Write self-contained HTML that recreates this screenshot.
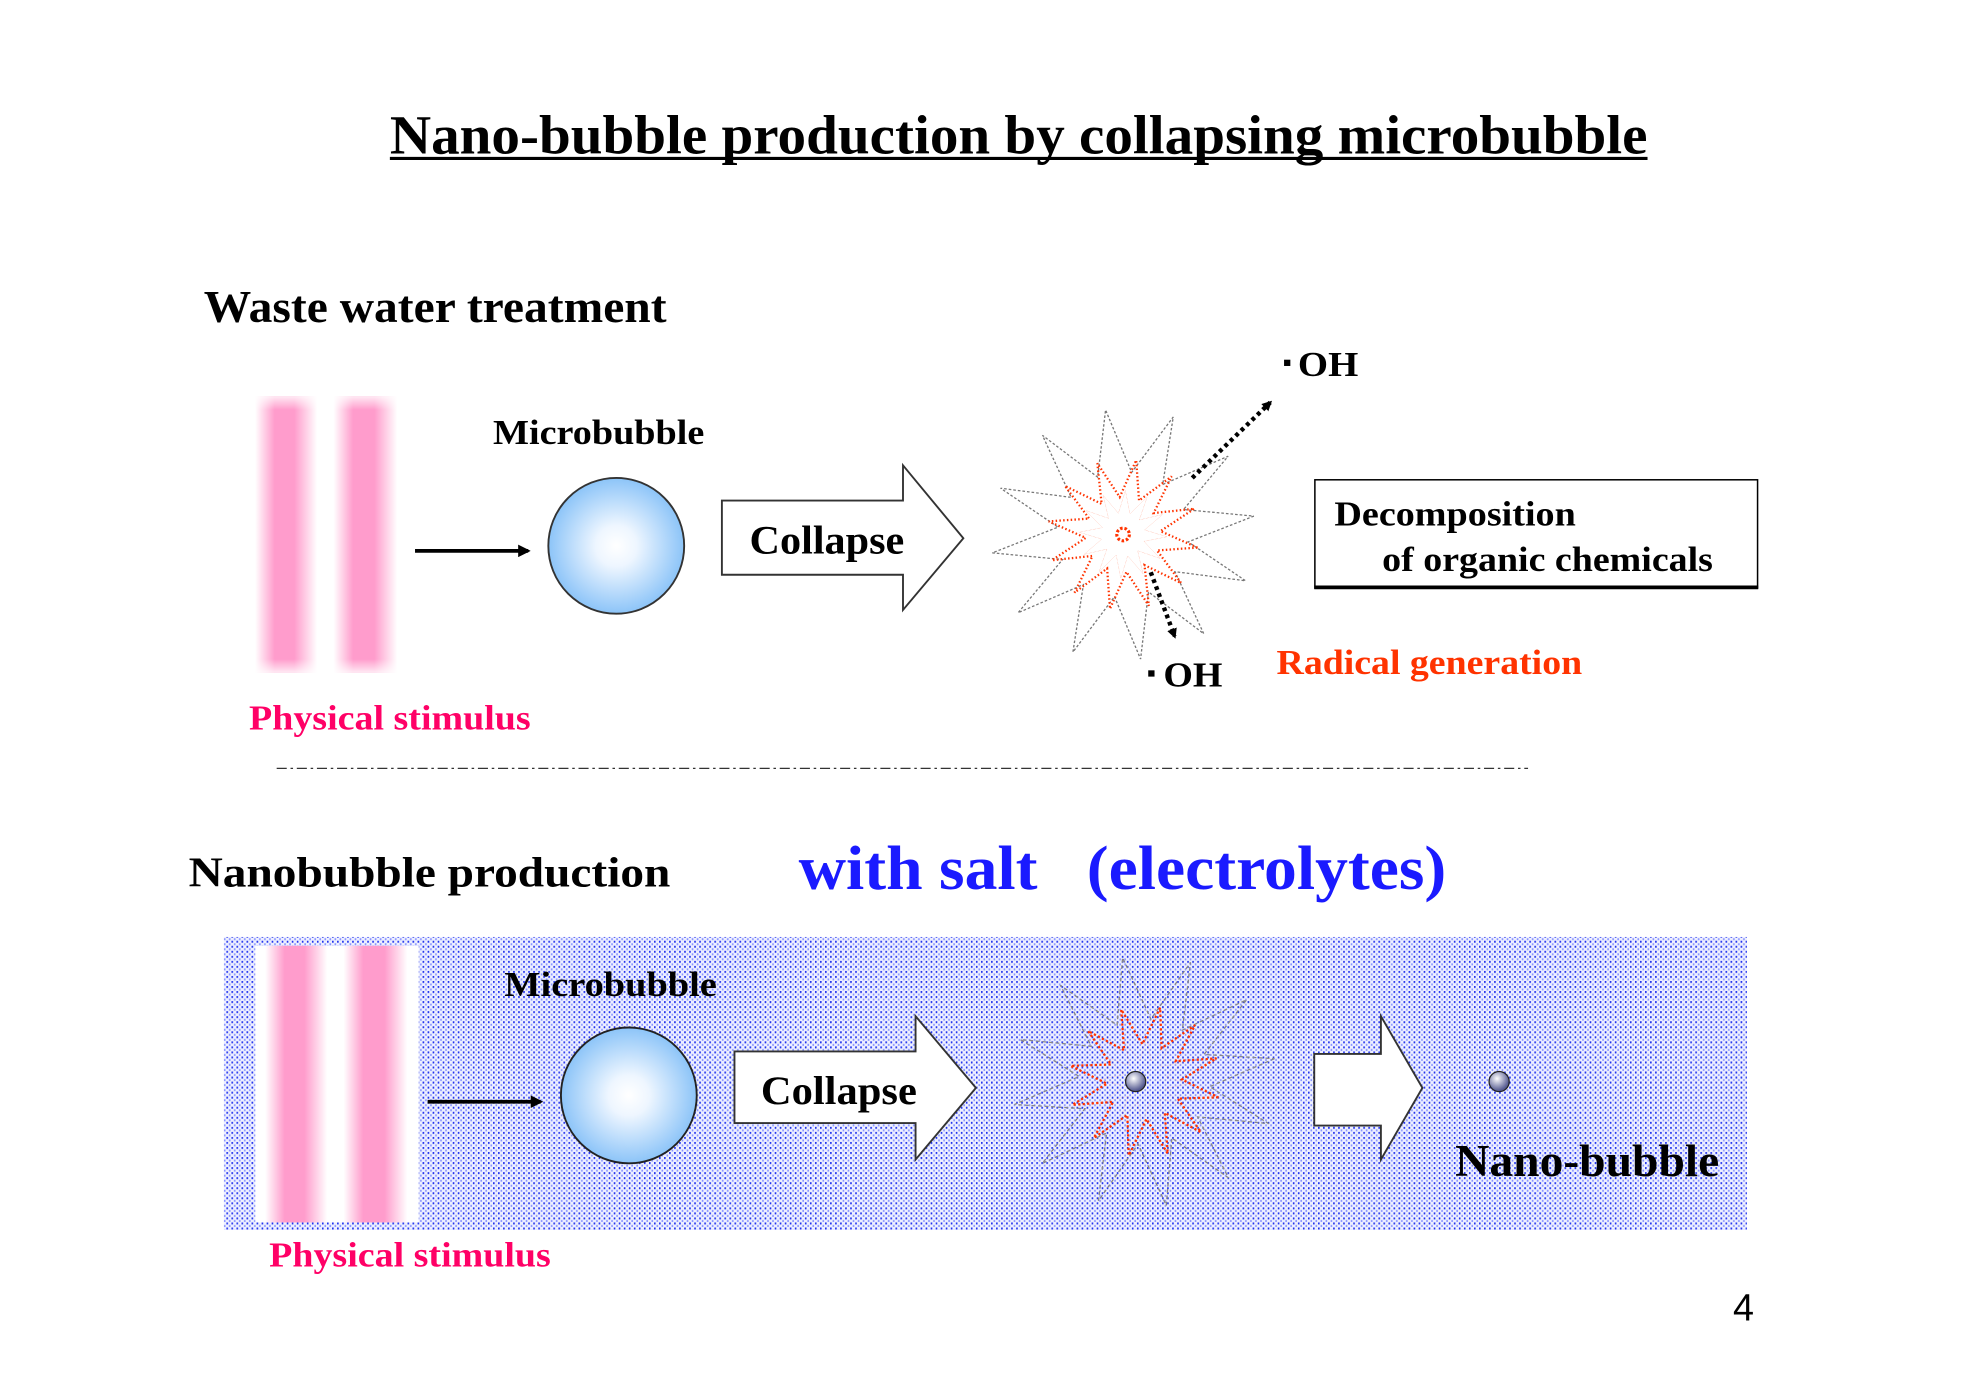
<!DOCTYPE html>
<html><head><meta charset="utf-8"><style>
html,body{margin:0;padding:0;background:#fff;}
svg{display:block;}
text{font-family:"Liberation Serif",serif;font-weight:bold;}
</style></head><body>
<svg width="1972" height="1396" viewBox="0 0 1568 1110" xmlns="http://www.w3.org/2000/svg">
<defs>
<linearGradient id="stripes" x1="0" x2="1" y1="0" y2="0">
<stop offset="0" stop-color="#fff"/>
<stop offset="0.06" stop-color="#fff"/>
<stop offset="0.18" stop-color="#ff9ccc"/>
<stop offset="0.3" stop-color="#ff9ccc"/>
<stop offset="0.44" stop-color="#fff"/>
<stop offset="0.54" stop-color="#fff"/>
<stop offset="0.66" stop-color="#ff9ccc"/>
<stop offset="0.79" stop-color="#ff9ccc"/>
<stop offset="0.93" stop-color="#fff"/>
<stop offset="1" stop-color="#fff"/>
</linearGradient>
<linearGradient id="vfade" x1="0" x2="0" y1="0" y2="1">
<stop offset="0" stop-color="#fff" stop-opacity="0.8"/>
<stop offset="0.05" stop-color="#fff" stop-opacity="0"/>
<stop offset="0.95" stop-color="#fff" stop-opacity="0"/>
<stop offset="1" stop-color="#fff" stop-opacity="0.8"/>
</linearGradient>
<radialGradient id="bub" cx="0.5" cy="0.5" r="0.5">
<stop offset="0" stop-color="#fff"/>
<stop offset="0.3" stop-color="#eef6ff"/>
<stop offset="1" stop-color="#8cc4f8"/>
</radialGradient>
<radialGradient id="ball" cx="0.4" cy="0.35" r="0.6">
<stop offset="0" stop-color="#fff"/>
<stop offset="1" stop-color="#555a90"/>
</radialGradient>
<pattern id="dots" width="4" height="4" patternUnits="userSpaceOnUse">
<rect width="4" height="4" fill="#eef0ff"/>
<rect x="0" y="0" width="1.3" height="1.6" fill="#2233ee"/>
<rect x="2" y="2" width="1.3" height="1.6" fill="#4455ff" opacity="0.6"/>
</pattern>
<polygon id="star" points="100,0 48,13 87,50 35,35 50,87 13,48 0,100 -13,48 -50,87 -35,35 -87,50 -48,13 -100,0 -48,-13 -87,-50 -35,-35 -50,-87 -13,-48 0,-100 13,-48 50,-87 35,-35 87,-50 48,-13"/>
<marker id="ah" markerWidth="8" markerHeight="8" refX="6" refY="4" orient="auto" markerUnits="userSpaceOnUse"><path d="M0,0 L8,4 L0,8 z" fill="#000"/></marker>
<marker id="ah2" markerWidth="10" markerHeight="10" refX="8" refY="5" orient="auto" markerUnits="userSpaceOnUse"><path d="M0,0 L10,5 L0,10 z" fill="#000"/></marker>
</defs>

<text x="310" y="122" font-size="44" textLength="1000" lengthAdjust="spacingAndGlyphs">Nano-bubble production by collapsing microbubble</text>
<line x1="310" y1="126" x2="1310" y2="126" stroke="#000" stroke-width="2.5"/>

<text x="162" y="256" font-size="36" textLength="368" lengthAdjust="spacingAndGlyphs">Waste water treatment</text>

<rect x="195" y="315" width="130" height="220" fill="url(#stripes)"/>
<rect x="195" y="315" width="130" height="220" fill="url(#vfade)"/>
<line x1="330" y1="438" x2="420" y2="438" stroke="#000" stroke-width="3" marker-end="url(#ah2)"/>
<text x="392" y="353" font-size="28" textLength="168" lengthAdjust="spacingAndGlyphs">Microbubble</text>
<circle cx="490" cy="434" r="54" fill="url(#bub)" stroke="#333" stroke-width="1.5"/>
<path d="M574,398 L718,398 L718,370 L766,428 L718,485 L718,457 L574,457 Z" fill="#fff" stroke="#333" stroke-width="1.5"/>
<text x="596" y="440" font-size="32" textLength="123" lengthAdjust="spacingAndGlyphs">Collapse</text>

<g transform="translate(893,425)">
<use href="#star" transform="rotate(-8) scale(1.05,1.0)" fill="none" stroke="#777" stroke-width="1" stroke-dasharray="2,1.5" vector-effect="non-scaling-stroke"/>
<use href="#star" transform="rotate(10) scale(0.6)" fill="none" stroke="#ff3300" stroke-width="3" stroke-dasharray="2,3" vector-effect="non-scaling-stroke"/>
<use href="#star" transform="rotate(3) scale(0.35)" fill="none" stroke="#ff7755" stroke-width="1" stroke-dasharray="1,2" vector-effect="non-scaling-stroke"/>
<circle r="5" fill="none" stroke="#ff3300" stroke-width="2.5" stroke-dasharray="2,1.5"/>
</g>
<line x1="948" y1="380" x2="1010" y2="320" stroke="#000" stroke-width="3.5" stroke-dasharray="3,3" marker-end="url(#ah)"/>
<line x1="915" y1="455" x2="934" y2="506" stroke="#000" stroke-width="3.5" stroke-dasharray="3,3" marker-end="url(#ah)"/>
<rect x="1021" y="286" width="5" height="5" fill="#000"/>
<text x="1032" y="299" font-size="28" textLength="48" lengthAdjust="spacingAndGlyphs">OH</text>
<rect x="913" y="533" width="5" height="5" fill="#000"/>
<text x="925" y="546" font-size="28" textLength="47" lengthAdjust="spacingAndGlyphs">OH</text>

<rect x="1045.5" y="381.5" width="352" height="86" fill="#fff" stroke="#000" stroke-width="1.2"/>
<line x1="1045" y1="467" x2="1398" y2="467" stroke="#000" stroke-width="3"/>
<text x="1061" y="418" font-size="28" textLength="192" lengthAdjust="spacingAndGlyphs">Decomposition</text>
<text x="1099" y="454" font-size="28" textLength="263" lengthAdjust="spacingAndGlyphs">of organic chemicals</text>
<text x="1015" y="536" font-size="28" fill="#ff3300" textLength="243" lengthAdjust="spacingAndGlyphs">Radical generation</text>
<text x="198" y="580" font-size="28" fill="#ff0066" textLength="224" lengthAdjust="spacingAndGlyphs">Physical stimulus</text>

<line x1="220" y1="611" x2="1215" y2="611" stroke="#333" stroke-width="1" stroke-dasharray="8,3,2,3"/>

<text x="150" y="705" font-size="34" textLength="383" lengthAdjust="spacingAndGlyphs">Nanobubble production</text>
<text x="635" y="707" font-size="50" fill="#1a1aff" xml:space="preserve" textLength="515" lengthAdjust="spacingAndGlyphs">with salt   (electrolytes)</text>

<rect x="178" y="745" width="1211" height="233" fill="url(#dots)"/>
<rect x="203" y="752" width="130" height="220" fill="url(#stripes)"/>
<line x1="340" y1="876" x2="430" y2="876" stroke="#000" stroke-width="3" marker-end="url(#ah2)"/>
<text x="401" y="792" font-size="28" textLength="169" lengthAdjust="spacingAndGlyphs">Microbubble</text>
<circle cx="500" cy="871" r="54" fill="url(#bub)" stroke="#222" stroke-width="1.5"/>
<path d="M584,836 L728,836 L728,808 L776,865 L728,922 L728,893 L584,893 Z" fill="#fff" stroke="#333" stroke-width="1.5"/>
<text x="605" y="878" font-size="32" textLength="124" lengthAdjust="spacingAndGlyphs">Collapse</text>

<g transform="translate(910,860)">
<use href="#star" transform="rotate(-10) scale(1.05,1.0)" fill="none" stroke="#888" stroke-width="1" stroke-dasharray="3,2" vector-effect="non-scaling-stroke"/>
<use href="#star" transform="rotate(12) scale(0.6)" fill="none" stroke="#ff3300" stroke-width="3" stroke-dasharray="3,3" vector-effect="non-scaling-stroke"/>
<use href="#star" transform="rotate(3) scale(0.35)" fill="none" stroke="#ff9977" stroke-width="1" stroke-dasharray="1,2" vector-effect="non-scaling-stroke"/>
</g>
<circle cx="903" cy="860" r="8" fill="url(#ball)" stroke="#222" stroke-width="1"/>
<path d="M1045,838 L1098,838 L1098,808 L1131,865 L1098,922 L1098,895 L1045,895 Z" fill="#fff" stroke="#333" stroke-width="1.5"/>
<circle cx="1192" cy="860" r="8" fill="url(#ball)" stroke="#222" stroke-width="1"/>
<text x="1157" y="935" font-size="36" textLength="210" lengthAdjust="spacingAndGlyphs">Nano-bubble</text>
<text x="214" y="1007" font-size="28" fill="#ff0066" textLength="224" lengthAdjust="spacingAndGlyphs">Physical stimulus</text>

<text x="1378" y="1050" font-size="30" style="font-family:'Liberation Sans',sans-serif;font-weight:normal">4</text>
</svg>
</body></html>
